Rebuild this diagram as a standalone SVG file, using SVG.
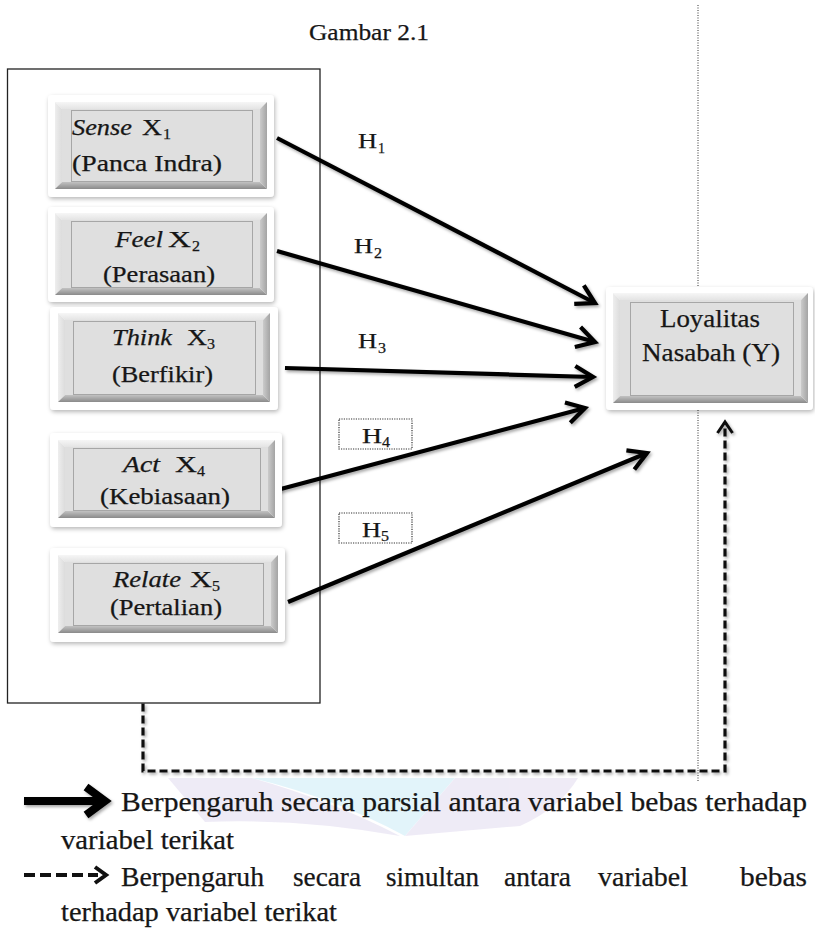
<svg xmlns="http://www.w3.org/2000/svg" width="815" height="934" viewBox="0 0 815 934">
  <defs>
    <style>
      text { font-family: "Liberation Serif", "Times New Roman", serif; fill: #161616; stroke: #161616; stroke-width: 0.25; }
      .t { font-size: 23px; }
      .it { font-size: 23px; font-style: italic; }
      .y { font-size: 25px; }
      .sub { font-size: 14px; }
      .h { font-size: 22px; }
      .lg { font-size: 27px; }
      .frame { fill: #ffffff; filter: url(#soft); }
      .bt { fill: url(#gTop); }
      .bl { fill: url(#gLeft); }
      .br { fill: url(#gRight); }
      .bb { fill: url(#gBottom); }
      .face { fill: #dfdfdf; }
      .dot { fill: none; stroke: #6d6d6d; stroke-width: 1; stroke-dasharray: 1 1; }
      .arrow { fill: none; stroke: #000; stroke-width: 4.2; marker-end: url(#chev); }
      .dash { fill: none; stroke: #111; stroke-width: 3.2; stroke-dasharray: 8 4; }
      .hbox { fill: none; stroke: #333; stroke-width: 1.2; stroke-dasharray: 1.2 1.2; }
    </style>
    <linearGradient id="gTop" x1="0" y1="0" x2="0" y2="1">
      <stop offset="0" stop-color="#f6f6f6"/><stop offset="1" stop-color="#e4e4e4"/>
    </linearGradient>
    <linearGradient id="gLeft" x1="0" y1="0" x2="1" y2="0">
      <stop offset="0" stop-color="#eeeeee"/><stop offset="1" stop-color="#dcdcdc"/>
    </linearGradient>
    <linearGradient id="gRight" x1="0" y1="0" x2="1" y2="0">
      <stop offset="0" stop-color="#cbcbcb"/><stop offset="1" stop-color="#a4a4a4"/>
    </linearGradient>
    <linearGradient id="gBottom" x1="0" y1="0" x2="0" y2="1">
      <stop offset="0" stop-color="#c2c2c2"/><stop offset="1" stop-color="#8a8a8a"/>
    </linearGradient>
    <filter id="soft" x="-10%" y="-10%" width="125%" height="130%">
      <feDropShadow dx="1" dy="2" stdDeviation="2" flood-color="#000" flood-opacity="0.28"/>
    </filter>
    <filter id="shade" x="-10%" y="-20%" width="125%" height="150%">
      <feDropShadow dx="1.5" dy="2" stdDeviation="1.6" flood-color="#000" flood-opacity="0.35"/>
    </filter>
    <marker id="chev" markerUnits="userSpaceOnUse" markerWidth="30" markerHeight="30" viewBox="0 0 30 30" refX="26" refY="15" orient="auto" overflow="visible">
      <path d="M8,4.6 L26,15 L8,25.4" fill="none" stroke="#000" stroke-width="4.2" stroke-linejoin="miter"/>
    </marker>
    <marker id="chevDash" markerUnits="userSpaceOnUse" markerWidth="20" markerHeight="20" viewBox="0 0 20 20" refX="16" refY="10" orient="auto" overflow="visible">
      <path d="M5,2.5 L16,10 L5,17.5" fill="none" stroke="#111" stroke-width="3" stroke-linejoin="miter"/>
    </marker>
  </defs>

  <rect width="815" height="934" fill="#ffffff"/>

  <!-- faint logo behind the legend -->
  <g id="watermark" opacity="0.85">
    <path d="M168,778 L252,778 Q330,800 400,836 Q300,818 205,822 Z" fill="#ece8f5"/>
    <path d="M252,778 L455,778 L405,836 Q335,798 252,778 Z" fill="#def3fa"/>
    <path d="M455,778 L578,778 Q560,808 520,826 L405,836 Z" fill="#ece8f5"/>
  </g>

  <text id="title" x="309" y="40" textLength="120" lengthAdjust="spacingAndGlyphs" style="font-size:24px">Gambar 2.1</text>

  <!-- dotted page guide -->
  <line id="guide" x1="698" y1="5" x2="698" y2="781" stroke="#333" stroke-width="1" stroke-dasharray="1 1.5"/>

  <!-- frame around the independent variables -->
  <rect id="group-x" x="7.5" y="69" width="312.5" height="634" fill="none" stroke="#222" stroke-width="1.3"/>

  <g id="connectors">
    <g filter="url(#shade)">
      <line class="arrow" x1="277" y1="138" x2="595" y2="303"/>
      <line class="arrow" x1="277" y1="251" x2="595" y2="342"/>
      <line class="arrow" x1="285" y1="368" x2="593" y2="377"/>
      <line class="arrow" x1="277" y1="490" x2="585" y2="408"/>
      <line class="arrow" x1="288" y1="602" x2="647" y2="453"/>
      <path class="dash" d="M143,703.5 V771 H725 V422" marker-end="url(#chevDash)"/>
    </g>
    <g id="hyp-labels">
      <text class="h" x="358" y="148" textLength="19" lengthAdjust="spacingAndGlyphs">H</text>
      <text class="sub" x="378" y="153" textLength="7" lengthAdjust="spacingAndGlyphs">1</text>
      <text class="h" x="354" y="253" textLength="19" lengthAdjust="spacingAndGlyphs">H</text>
      <text class="sub" x="374" y="258" textLength="8" lengthAdjust="spacingAndGlyphs">2</text>
      <text class="h" x="358" y="348" textLength="19" lengthAdjust="spacingAndGlyphs">H</text>
      <text class="sub" x="378" y="353" textLength="8" lengthAdjust="spacingAndGlyphs">3</text>
      <rect class="hbox" x="339" y="419" width="73" height="30"/>
      <text class="h" x="362" y="443" textLength="20" lengthAdjust="spacingAndGlyphs">H</text>
      <text class="sub" x="382" y="447" textLength="8" lengthAdjust="spacingAndGlyphs">4</text>
      <rect class="hbox" x="339" y="513" width="73" height="30"/>
      <text class="h" x="362" y="537" textLength="19" lengthAdjust="spacingAndGlyphs">H</text>
      <text class="sub" x="381" y="541" textLength="8" lengthAdjust="spacingAndGlyphs">5</text>
    </g>
  </g>

  <g id="node-x1">
    <rect class="frame" x="48" y="95" width="226" height="102" rx="4"/>
    <polygon class="bt" points="55,102 267,102 260,109 62,109"/>
    <polygon class="bl" points="55,102 62,109 62,182 55,189"/>
    <polygon class="br" points="267,102 267,189 260,182 260,109"/>
    <polygon class="bb" points="55,189 62,182 260,182 267,189"/>
    <rect class="face" x="62" y="109" width="198" height="73"/>
    <rect class="dot" x="71.5" y="110.5" width="181" height="71"/>
    <text class="it" x="72" y="135" textLength="60" lengthAdjust="spacingAndGlyphs">Sense</text>
    <text class="t" x="142" y="135" textLength="20" lengthAdjust="spacingAndGlyphs">X</text>
    <text class="sub" x="163" y="139" textLength="8" lengthAdjust="spacingAndGlyphs">1</text>
    <text class="t" x="72" y="171" textLength="150" lengthAdjust="spacingAndGlyphs">(Panca Indra)</text>
  </g>

  <g id="node-x2">
    <rect class="frame" x="48" y="207" width="226" height="95" rx="4"/>
    <polygon class="bt" points="55,213 267,213 260,220 62,220"/>
    <polygon class="bl" points="55,213 62,220 62,288 55,295"/>
    <polygon class="br" points="267,213 267,295 260,288 260,220"/>
    <polygon class="bb" points="55,295 62,288 260,288 267,295"/>
    <rect class="face" x="62" y="220" width="198" height="68"/>
    <rect class="dot" x="71.5" y="221.5" width="181" height="66"/>
    <text class="it" x="115" y="247" textLength="48" lengthAdjust="spacingAndGlyphs">Feel</text>
    <text class="t" x="168" y="247" textLength="23" lengthAdjust="spacingAndGlyphs">X</text>
    <text class="sub" x="192" y="251" textLength="8" lengthAdjust="spacingAndGlyphs">2</text>
    <text class="t" x="103" y="282" textLength="112" lengthAdjust="spacingAndGlyphs">(Perasaan)</text>
  </g>

  <g id="node-x3">
    <rect class="frame" x="50" y="307" width="228" height="103" rx="4"/>
    <polygon class="bt" points="58,313 270,313 263,320 65,320"/>
    <polygon class="bl" points="58,313 65,320 65,395 58,402"/>
    <polygon class="br" points="270,313 270,402 263,395 263,320"/>
    <polygon class="bb" points="58,402 65,395 263,395 270,402"/>
    <rect class="face" x="65" y="320" width="198" height="75"/>
    <rect class="dot" x="73.5" y="321.5" width="182" height="73"/>
    <text class="it" x="112" y="345" textLength="60" lengthAdjust="spacingAndGlyphs">Think</text>
    <text class="t" x="187" y="345" textLength="20" lengthAdjust="spacingAndGlyphs">X</text>
    <text class="sub" x="207" y="349" textLength="8" lengthAdjust="spacingAndGlyphs">3</text>
    <text class="t" x="112" y="382" textLength="101" lengthAdjust="spacingAndGlyphs">(Berfikir)</text>
  </g>

  <g id="node-x4">
    <rect class="frame" x="50" y="433" width="232" height="94" rx="4"/>
    <polygon class="bt" points="58,440 275,440 268,447 65,447"/>
    <polygon class="bl" points="58,440 65,447 65,511 58,518"/>
    <polygon class="br" points="275,440 275,518 268,511 268,447"/>
    <polygon class="bb" points="58,518 65,511 268,511 275,518"/>
    <rect class="face" x="65" y="447" width="203" height="64"/>
    <rect class="dot" x="73.5" y="448.5" width="187" height="62"/>
    <text class="it" x="123" y="472" textLength="37" lengthAdjust="spacingAndGlyphs">Act</text>
    <text class="t" x="175" y="472" textLength="22" lengthAdjust="spacingAndGlyphs">X</text>
    <text class="sub" x="197" y="476" textLength="8" lengthAdjust="spacingAndGlyphs">4</text>
    <text class="t" x="100" y="504" textLength="130" lengthAdjust="spacingAndGlyphs">(Kebiasaan)</text>
  </g>

  <g id="node-x5">
    <rect class="frame" x="50" y="548" width="235" height="94" rx="4"/>
    <polygon class="bt" points="58,555 278,555 271,562 65,562"/>
    <polygon class="bl" points="58,555 65,562 65,626 58,633"/>
    <polygon class="br" points="278,555 278,633 271,626 271,562"/>
    <polygon class="bb" points="58,633 65,626 271,626 278,633"/>
    <rect class="face" x="65" y="562" width="206" height="64"/>
    <rect class="dot" x="73.5" y="563.5" width="190" height="62"/>
    <text class="it" x="113" y="587" textLength="68" lengthAdjust="spacingAndGlyphs">Relate</text>
    <text class="t" x="190" y="587" textLength="22" lengthAdjust="spacingAndGlyphs">X</text>
    <text class="sub" x="212" y="591" textLength="8" lengthAdjust="spacingAndGlyphs">5</text>
    <text class="t" x="110" y="615" textLength="112" lengthAdjust="spacingAndGlyphs">(Pertalian)</text>
  </g>

  <g id="node-y">
    <rect class="frame" x="606" y="287" width="207" height="123" rx="4"/>
    <polygon class="bt" points="613,293 808,293 801,300 620,300"/>
    <polygon class="bl" points="613,293 620,300 620,396 613,403"/>
    <polygon class="br" points="808,293 808,403 801,396 801,300"/>
    <polygon class="bb" points="613,403 620,396 801,396 808,403"/>
    <rect class="face" x="620" y="300" width="181" height="96"/>
    <rect class="dot" x="630.5" y="302.5" width="163" height="93"/>
    <text class="y" x="660" y="327" textLength="100" lengthAdjust="spacingAndGlyphs">Loyalitas</text>
    <text class="y" x="642" y="361" textLength="138" lengthAdjust="spacingAndGlyphs">Nasabah (Y)</text>
  </g>

  <g id="legend">
    <g filter="url(#shade)">
      <line x1="24" y1="801" x2="100" y2="801" stroke="#000" stroke-width="8"/>
      <path d="M86,787 L105,801 L86,815" fill="none" stroke="#000" stroke-width="8"/>
    </g>
    <text class="lg" x="121" y="811" textLength="686" lengthAdjust="spacingAndGlyphs">Berpengaruh secara parsial antara variabel bebas terhadap</text>
    <text class="lg" x="61" y="849" textLength="173" lengthAdjust="spacingAndGlyphs">variabel terikat</text>
    <line x1="24" y1="875" x2="98" y2="875" stroke="#111" stroke-width="4" stroke-dasharray="11 5"/>
    <path d="M95,867 L106,875 L95,883" fill="none" stroke="#111" stroke-width="4"/>
    <text class="lg" x="121" y="886" textLength="143" lengthAdjust="spacingAndGlyphs">Berpengaruh</text>
    <text class="lg" x="293" y="886" textLength="68" lengthAdjust="spacingAndGlyphs">secara</text>
    <text class="lg" x="386" y="886" textLength="93" lengthAdjust="spacingAndGlyphs">simultan</text>
    <text class="lg" x="504" y="886" textLength="67" lengthAdjust="spacingAndGlyphs">antara</text>
    <text class="lg" x="598" y="886" textLength="90" lengthAdjust="spacingAndGlyphs">variabel</text>
    <text class="lg" x="740" y="886" textLength="67" lengthAdjust="spacingAndGlyphs">bebas</text>
    <text class="lg" x="61" y="921" textLength="276" lengthAdjust="spacingAndGlyphs">terhadap variabel terikat</text>
  </g>
</svg>
